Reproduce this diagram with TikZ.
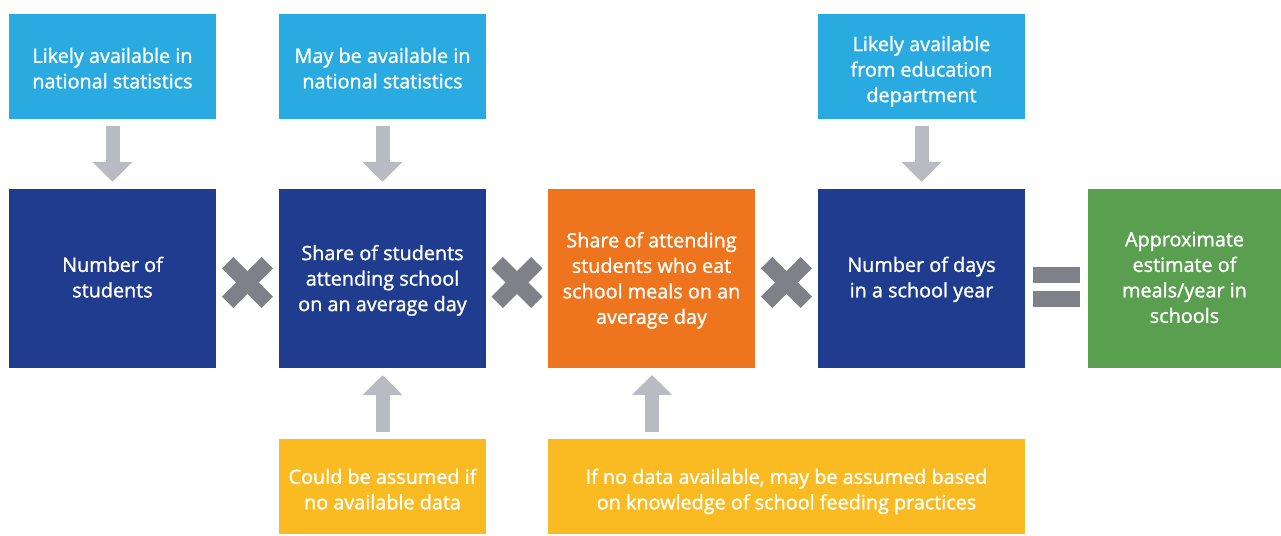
\documentclass[tikz,border=0pt]{standalone}
\usepackage{fontspec}
\setmainfont{Open Sans}[FakeBold=1.3]
\usetikzlibrary{arrows.meta}
\definecolor{lblue}{HTML}{29ABE2}
\definecolor{dblue}{HTML}{1F3C8F}
\definecolor{orng}{HTML}{EE741D}
\definecolor{grn}{HTML}{5A9E4F}
\definecolor{yel}{HTML}{F9BA22}
\definecolor{agrey}{HTML}{BABAC2}
\definecolor{xgrey}{HTML}{808088}
\newcommand\lowtxt[2]{\raisebox{-#1}[\height][\depth]{\begin{tabular}{@{}c@{}}#2\end{tabular}}}
\tikzset{
  box/.style={inner sep=0pt, minimum width=207pt, text=white, align=center,
    font=\fontsize{19.8}{25.5}\selectfont},
  srcbox/.style={box, fill=lblue, minimum height=105pt},
  mainbox/.style={box, fill=dblue, minimum height=179pt},
  asmbox/.style={box, fill=yel, minimum height=95pt},
  flowarrow/.style={draw=agrey, line width=14pt,
    -{Triangle[width=39pt,length=20pt]}, shorten <=7pt, shorten >=7pt},
  timesbar/.style={draw=xgrey, line width=16pt, line cap=butt},
}
\begin{document}
\begin{tikzpicture}[x=1pt,y=-1pt]
\useasboundingbox (0,0) rectangle (1281,535);
% top source boxes
\node[srcbox] (t1) at (112.5,66.5) {\lowtxt{4pt}{Likely available in\\national statistics}};
\node[srcbox] (t2) at (382.5,66.5) {\lowtxt{4pt}{May be available in\\national statistics}};
\node[srcbox] (t4) at (921.5,66.5) {\lowtxt{5pt}{Likely available\\from education\\department}};
% main boxes
\node[mainbox] (m1) at (112.5,278.5) {\lowtxt{1pt}{Number of\\students}};
\node[mainbox] (m2) at (382.5,278.5) {\lowtxt{2pt}{Share of students\\attending school\\on an average day}};
\node[mainbox, fill=orng] (m3) at (651.5,278.5) {\lowtxt{2pt}{Share of attending\\students who eat\\school meals on an\\average day}};
\node[mainbox] (m4) at (921.5,278.5) {\lowtxt{1pt}{Number of days\\in a school year}};
\node[mainbox, fill=grn, minimum width=193pt] (m5) at (1184.5,278.5) {\lowtxt{1pt}{Approximate\\estimate of\\meals/year in\\schools}};
% bottom assumption boxes
\node[asmbox] (b2) at (382.5,486.5) {\lowtxt{5pt}{Could be assumed if\\no available data}};
\node[asmbox, minimum width=477pt] (b3) at (786.5,486.5) {\lowtxt{5pt}{If no data available, may be assumed based\\on knowledge of school feeding practices}};
% arrows
\draw[flowarrow] (t1.south) -- (m1.north);
\draw[flowarrow] (t2.south) -- (m2.north);
\draw[flowarrow] (t4.south) -- (m4.north);
\draw[flowarrow] (b2.north) -- (m2.south);
\coordinate (b3top) at (652,439);
\coordinate (m3bot) at (652,368);
\draw[flowarrow] (b3top) -- (m3bot);
% multiplication signs
\foreach \cx in {247.5,517,786.5}{
  \draw[timesbar] (\cx-19.8,282.5-19.8) -- (\cx+19.8,282.5+19.8);
  \draw[timesbar] (\cx-19.8,282.5+19.8) -- (\cx+19.8,282.5-19.8);
}
% equals sign
\fill[xgrey] (1033,267) rectangle (1080,283);
\fill[xgrey] (1033,291) rectangle (1080,307);
\end{tikzpicture}
\end{document}
